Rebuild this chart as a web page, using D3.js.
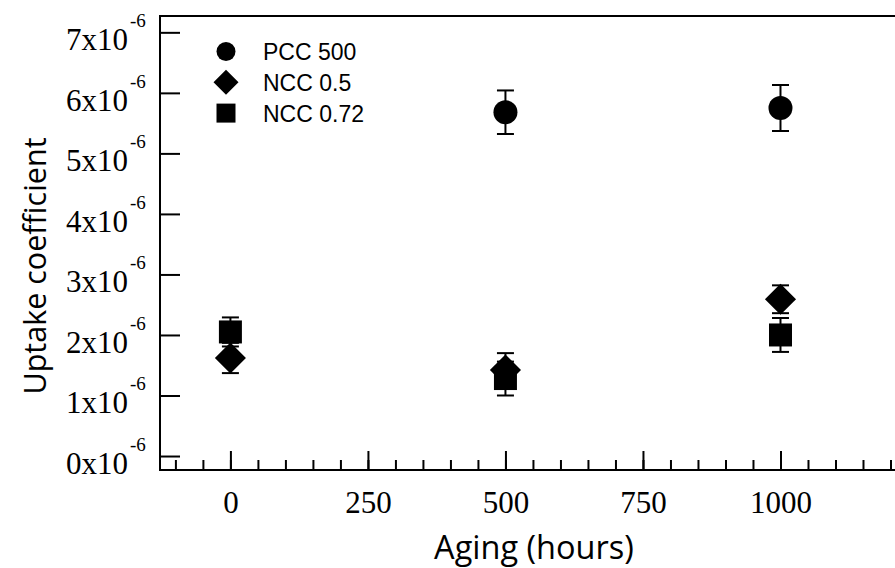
<!DOCTYPE html>
<html><head><meta charset="utf-8">
<script src="https://cdn.jsdelivr.net/npm/d3@7"></script>
<style>body{margin:0;background:#fff}svg{display:block}</style>
</head><body><svg id="c" width="895" height="568"></svg>
<script>
// ---- data ----
const seriesNames = ["PCC 500", "NCC 0.5", "NCC 0.72"];
const pccHours = [500, 1000];
const pccValues = [5.68, 5.75];      // x10^-6
const pccErrors = [0.36, 0.38];
const ncc05Hours = [0, 500, 1000];
const ncc05Values = [1.62, 1.42, 2.59];
const ncc05Errors = [0.25, 0.28, 0.23];
const ncc072Hours = [0, 500, 1000];
const ncc072Values = [2.05, 1.28, 2.0];
const ncc072Errors = [0.24, 0.28, 0.28];
const xMajorTicks = [0, 250, 500, 750, 1000];
const xMinorTicks = d3.range(-100, 1201, 50);
const yTicks = [0, 1, 2, 3, 4, 5, 6, 7];
const yExponent = "-6";
const xTitle = "Aging (hours)";
const yTitle = "Uptake coefficient";

// ---- layout ----
const svg = d3.select("#c");
const L = 160, R = 907, T = 16, B = 470;
const x = d3.scaleLinear().domain([-128, 1230]).range([L, R]);
const y = d3.scaleLinear().domain([-0.231, 7.27]).range([B, T]);

const g = svg.append("g");

// frame
g.append("rect").attr("x", L).attr("y", T).attr("width", R - L).attr("height", B - T)
  .attr("fill", "none").attr("stroke", "#000").attr("stroke-width", 2);

// x axis ticks (inward)
const xAxisMinor = d3.axisBottom(x).tickValues(xMinorTicks).tickSizeInner(-10).tickSizeOuter(0).tickFormat("");
const xAxisMajor = d3.axisBottom(x).tickValues(xMajorTicks).tickSizeInner(-19).tickSizeOuter(0).tickFormat(d3.format("d"));
const gxm = g.append("g").attr("transform", `translate(0,${B})`).call(xAxisMinor);
const gx = g.append("g").attr("transform", `translate(0,${B})`).call(xAxisMajor);
[gxm, gx].forEach(a => {
  a.select(".domain").remove();
  a.selectAll("line").attr("stroke", "#000").attr("stroke-width", 2);
});
gx.selectAll("text").attr("font-family", "'Liberation Serif', 'Times New Roman', serif")
  .attr("font-size", 31).attr("fill", "#000").attr("dy", 0).attr("y", 43);

// y axis ticks (inward)
const yAxis = d3.axisLeft(y).tickValues(yTicks).tickSizeInner(-20).tickSizeOuter(0).tickFormat("");
const gy = g.append("g").attr("transform", `translate(${L},0)`).call(yAxis);
gy.select(".domain").remove();
gy.selectAll("line").attr("stroke", "#000").attr("stroke-width", 2);
// y labels with superscript
const yl = g.append("g");
yTicks.forEach(v => {
  yl.append("text").attr("x", 128).attr("y", y(v) + 18).attr("text-anchor", "end")
    .attr("font-family", "'Liberation Serif', 'Times New Roman', serif").attr("font-size", 31)
    .text(v + "x10");
  yl.append("text").attr("x", 130).attr("y", y(v) - 5)
    .attr("font-family", "'Liberation Serif', 'Times New Roman', serif").attr("font-size", 19)
    .text(yExponent);
});

// titles
g.append("text").attr("x", 534).attr("y", 559).attr("text-anchor", "middle")
  .attr("font-family", "'Open Sans', sans-serif").attr("font-size", 32.5).text(xTitle);
g.append("text").attr("transform", "translate(46,266) rotate(-90)").attr("text-anchor", "middle")
  .attr("font-family", "'Open Sans', sans-serif").attr("font-size", 30.5).text(yTitle);

// data
const series = [
  {name: seriesNames[0], hours: pccHours, vals: pccValues, errs: pccErrors, type: d3.symbolCircle, size: 452, legSize: 283, rot: 0},
  {name: seriesNames[1], hours: ncc05Hours, vals: ncc05Values, errs: ncc05Errors, type: d3.symbolSquare, size: 484, legSize: 313, rot: 45},
  {name: seriesNames[2], hours: ncc072Hours, vals: ncc072Values, errs: ncc072Errors, type: d3.symbolSquare, size: 529, legSize: 361, rot: 0}
];
svg.append("clipPath").attr("id", "pc").append("rect")
  .attr("x", L).attr("y", T).attr("width", R - L).attr("height", B - T);
const pg = g.append("g").attr("clip-path", "url(#pc)");
const cap = 8.5;
series.forEach(s => {
  const pts = s.hours.map((h, i) => ({h, v: s.vals[i], e: s.errs[i]}));
  const eb = pg.append("g").attr("stroke", "#000").attr("stroke-width", 2);
  pts.forEach(p => {
    eb.append("line").attr("x1", x(p.h)).attr("x2", x(p.h)).attr("y1", y(p.v - p.e)).attr("y2", y(p.v + p.e));
    eb.append("line").attr("x1", x(p.h) - cap).attr("x2", x(p.h) + cap).attr("y1", y(p.v - p.e)).attr("y2", y(p.v - p.e));
    eb.append("line").attr("x1", x(p.h) - cap).attr("x2", x(p.h) + cap).attr("y1", y(p.v + p.e)).attr("y2", y(p.v + p.e));
  });
});
series.forEach(s => {
  const pts = s.hours.map((h, i) => ({h, v: s.vals[i]}));
  pg.selectAll(null).data(pts).enter().append("path")
    .attr("d", d3.symbol().type(s.type).size(s.size))
    .attr("transform", d => `translate(${x(d.h)},${y(d.v)}) rotate(${s.rot})`)
    .attr("fill", "#000");
});

// legend
const lg = g.append("g");
series.forEach((s, i) => {
  const cy = 51.5 + i * 30.8;
  lg.append("path").attr("d", d3.symbol().type(s.type).size(s.legSize))
    .attr("transform", `translate(226,${cy}) rotate(${s.rot})`).attr("fill", "#000");
  lg.append("text").attr("x", 263).attr("y", cy + 8.5)
    .attr("font-family", "'Liberation Sans', Arial, sans-serif").attr("font-size", 23).text(s.name);
});
</script></body></html>
